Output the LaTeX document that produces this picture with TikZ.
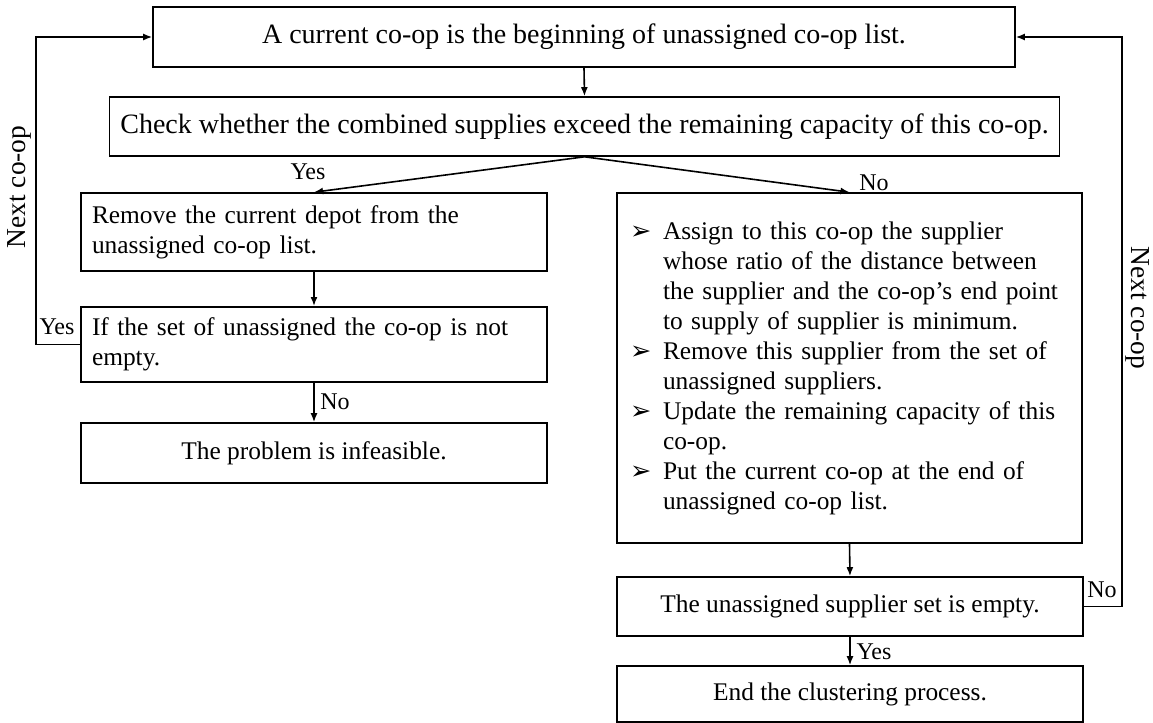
\documentclass[tikz,border=0pt]{standalone}
\usepackage{fontspec}
\setmainfont{Liberation Serif}
\newfontfamily\symfont{DejaVu Sans}
\usepackage{tikz}
\usetikzlibrary{positioning,arrows.meta}
\newcommand{\bul}{\makebox[16.5pt][l]{\symfont ➢}}
\newcommand{\ind}{\hspace*{16.5pt}}

\begin{document}
\begin{tikzpicture}[x=0.5pt, y=-0.5pt,
    every node/.style={font=\fontsize{12.7}{15}\selectfont},
    flowBox/.style={rectangle, draw=black, line width=0.8pt, inner sep=5.5pt, align=center, minimum width=#1},
    wideBox/.style={flowBox=#1, font=\fontsize{14}{16}\selectfont},
    leftBox/.style={rectangle, draw=black, line width=0.8pt, inner sep=5.5pt, align=left, text width=222pt, minimum width=233pt},
    listBox/.style={rectangle, draw=black, line width=0.8pt, inner xsep=6.5pt, align=left, text width=219.5pt, minimum height=175pt},
    labelText/.style={inner sep=1pt, font=\fontsize{12}{14}\selectfont},
    sideText/.style={inner sep=1pt, font=\fontsize{13.7}{16}\selectfont},
    arrowStyle/.style={-{Latex[length=4.5pt,width=3.5pt]}, line width=0.8pt, draw=black}
]
    \useasboundingbox (0,0) rectangle (1153,723);

    \node[wideBox=431pt, minimum height=30pt] (top) at (584,37) {A current co-op is the beginning of unassigned co-op list.};
    \node[wideBox=474.5pt, minimum height=29.5pt] (check) at (584.5,126.5) {Check whether the combined supplies exceed the remaining capacity of this co-op.};

    \node[leftBox, minimum height=39pt] (remove) at (314,232) {Remove the current depot from the\\unassigned co-op list.};
    \node[leftBox, minimum height=37.5pt] (ifEmpty) at (314,344.5) {If the set of unassigned the co-op is not\\empty.};
    \node[flowBox=233pt, minimum height=30pt] (infeasible) at (314,453) {The problem is infeasible.};

    \node[listBox] (assign) at (849.5,368) {
        \bul Assign to this co-op the supplier\\
        \ind whose ratio of the distance between\\
        \ind the supplier and the co-op's end point\\
        \ind to supply of supplier is minimum.\\
        \bul Remove this supplier from the set of\\
        \ind unassigned suppliers.\\
        \bul Update the remaining capacity of this\\
        \ind co-op.\\
        \bul Put the current co-op at the end of\\
        \ind unassigned co-op list.
    };
    \node[flowBox=233pt, minimum height=29.5pt] (supEmpty) at (850,606.5) {The unassigned supplier set is empty.};
    \node[flowBox=233pt, minimum height=28pt] (finish) at (850,694) {End the clustering process.};

    \node[labelText] (yesA) at (308,172) {Yes};
    \node[labelText] (noA) at (874,183) {No};
    \node[labelText] (yesB) at (57,327) {Yes};
    \node[labelText] (noB) at (335,402) {No};
    \node[labelText] (noC) at (1102,590) {No};
    \node[labelText] (yesC) at (874,652) {Yes};
    \node[sideText, rotate=90] (nextL) at (19,187) {Next co-op};
    \node[sideText, rotate=-90] (nextR) at (1138,308) {Next co-op};

    \draw[arrowStyle] (top.south) -- (check.north);
    \draw[arrowStyle] (check.south) -- (remove.north);
    \draw[arrowStyle] (check.south) -- (assign.north);
    \draw[arrowStyle] (remove.south) -- (ifEmpty.north);
    \draw[arrowStyle] (ifEmpty.south) -- (infeasible.north);
    \draw[arrowStyle] (ifEmpty.west) -- ++(-44,0) |- (top.west);
    \draw[arrowStyle] (assign.south) -- (supEmpty.north);
    \draw[arrowStyle] (supEmpty.south) -- (finish.north);
    \draw[arrowStyle] (supEmpty.east) -- ++(38,0) |- (top.east);
\end{tikzpicture}
\end{document}
